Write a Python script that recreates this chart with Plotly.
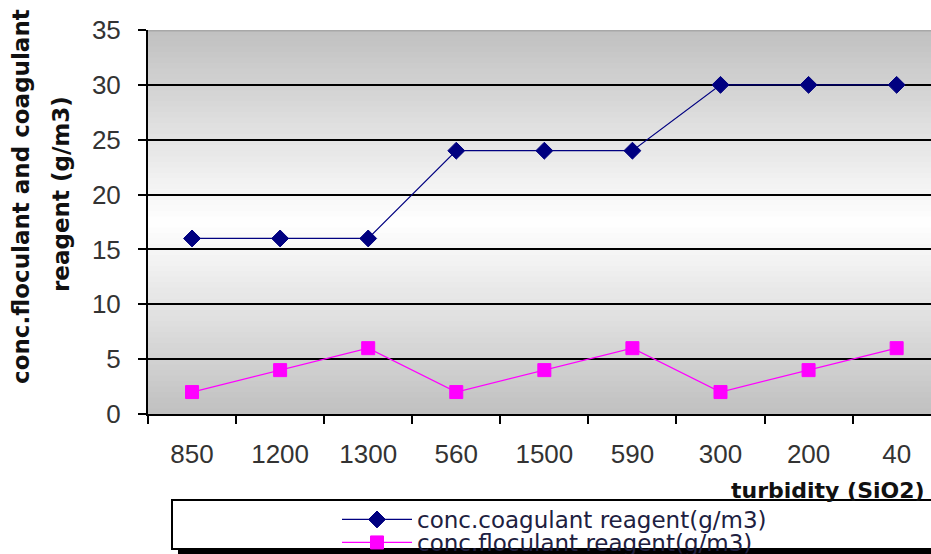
import plotly.graph_objects as go

# Turbidity samples (SiO2) along the x axis, in test order
turbidity = ["850", "1200", "1300", "560", "1500", "590", "300", "200", "40"]

# Reagent doses, g/m3
coagulant = [16, 16, 16, 24, 24, 24, 30, 30, 30]
floculant = [2, 4, 6, 2, 4, 6, 2, 4, 6]

y_ticks = [0, 5, 10, 15, 20, 25, 30, 35]

W, H = 931, 554
ML, MR, MT, MB = 148, 0, 30, 140
PW, PH = W - ML - MR, H - MT - MB


def px_x(p):
    return (p - ML) / PW


def px_y(p):
    return 1 - (p - MT) / PH


fig = go.Figure()

fig.add_trace(go.Scatter(
    x=turbidity, y=coagulant, mode="lines+markers",
    name="conc.coagulant reagent(g/m3)",
    line=dict(color="#000080", width=1.2),
    marker=dict(symbol="diamond", size=13, color="#000080",
                line=dict(color="#000080", width=1)),
    legend="legend",
))
fig.add_trace(go.Scatter(
    x=turbidity, y=floculant, mode="lines+markers",
    name="conc.floculant reagent(g/m3)",
    line=dict(color="#ff00ff", width=1.2),
    marker=dict(symbol="square", size=13, color="#ff00ff",
                line=dict(color="#ff00ff", width=1)),
    legend="legend2",
))

shapes = []

# Plot-area background: grey at top and bottom fading to white in the middle.
# Bands overlap slightly so no seams show between them.
n_bands = 70
y_lo, y_hi = 0.0, 35.0
mid = (y_lo + y_hi) / 2
step = (y_hi - y_lo) / n_bands
for i in range(n_bands):
    a = y_lo + step * i
    b = min(y_hi, a + step * 1.6)
    c = a + step / 2
    t = abs(c - mid) / (mid - y_lo)
    g = int(round(255 - (255 - 192) * t))
    shapes.append(dict(type="rect", xref="paper", yref="y",
                       x0=0, x1=1, y0=a, y1=b, layer="below",
                       line=dict(width=0),
                       fillcolor=f"rgb({g},{g},{g})"))

# Soft grey top border of the plot area
shapes.append(dict(type="line", xref="paper", yref="y", x0=0, x1=1,
                   y0=35, y1=35, layer="above",
                   line=dict(color="#a8a8a8", width=3)))

# Legend frame with a drop shadow underneath
shapes.append(dict(type="rect", xref="paper", yref="paper",
                   x0=px_x(178), x1=px_x(960), y0=px_y(562), y1=px_y(549),
                   fillcolor="black", line=dict(width=0), layer="above"))
shapes.append(dict(type="rect", xref="paper", yref="paper",
                   x0=px_x(172), x1=px_x(960), y0=px_y(549), y1=px_y(500),
                   fillcolor="white", line=dict(color="black", width=2),
                   layer="above"))

annotations = [
    dict(text="conc.floculant and coagulant", textangle=-90,
         xref="paper", yref="paper", x=px_x(21), y=px_y(197),
         xanchor="center", yanchor="middle", showarrow=False,
         font=dict(family="DejaVu Sans", size=23, color="#111111",
                   weight="bold")),
    dict(text="reagent (g/m3)", textangle=-90,
         xref="paper", yref="paper", x=px_x(61), y=px_y(194),
         xanchor="center", yanchor="middle", showarrow=False,
         font=dict(family="DejaVu Sans", size=23, color="#111111",
                   weight="bold")),
    dict(text="turbidity (SiO2)",
         xref="paper", yref="paper", x=px_x(927), y=px_y(490),
         xanchor="right", yanchor="middle", showarrow=False,
         font=dict(family="DejaVu Sans", size=22, color="#111111",
                   weight="bold")),
]

legend_style = dict(
    xanchor="left", yanchor="top",
    bgcolor="rgba(0,0,0,0)", borderwidth=0,
    itemwidth=70, tracegroupgap=0,
    font=dict(family="DejaVu Sans", size=23, color="#202040"),
)

fig.update_layout(
    width=W, height=H,
    margin=dict(l=ML, r=MR, t=MT, b=MB, pad=0, autoexpand=False),
    paper_bgcolor="white",
    plot_bgcolor="rgba(0,0,0,0)",
    showlegend=True,
    legend=dict(x=px_x(337), y=px_y(498), **legend_style),
    legend2=dict(x=px_x(337), y=px_y(521), **legend_style),
    shapes=shapes,
    annotations=annotations,
    xaxis=dict(
        type="category", range=[-0.5, 8.39],
        categoryorder="array", categoryarray=turbidity,
        showgrid=False, zeroline=False,
        showline=True, linecolor="black", linewidth=2,
        ticks="outside", tickson="boundaries", ticklen=8,
        tickwidth=2, tickcolor="black",
        ticklabelstandoff=16,
        tickfont=dict(family="Liberation Sans", size=26, color="#333333"),
    ),
    yaxis=dict(
        range=[0, 35], tickvals=y_ticks,
        showgrid=True, gridcolor="black", gridwidth=2,
        zeroline=False,
        showline=True, linecolor="black", linewidth=2,
        ticks="outside", ticklen=8, tickwidth=2, tickcolor="black",
        ticklabelstandoff=12,
        tickfont=dict(family="Liberation Sans", size=26, color="#333333"),
    ),
)

fig.write_html("out.html")
